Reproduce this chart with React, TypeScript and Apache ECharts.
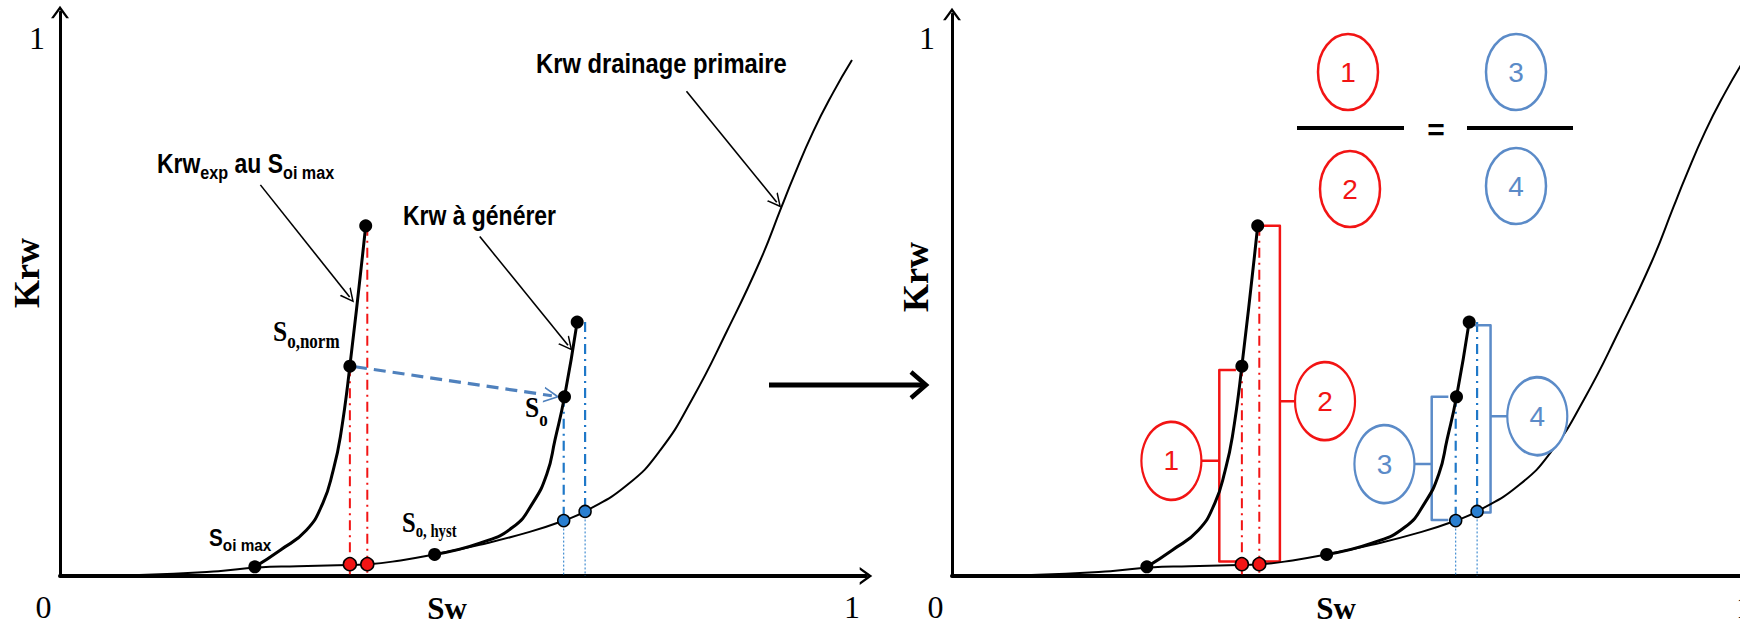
import React, { useEffect, useRef } from "react";
import * as echarts from "echarts";

// ---------- data (Sw, Krw in [0,1]) ----------
const DRAINAGE_SW = [0, 0.1, 0.2, 0.25, 0.3, 0.35, 0.39, 0.43, 0.473, 0.53, 0.593, 0.636, 0.663, 0.716, 0.758, 0.799, 0.842, 0.884, 0.911, 0.926, 0.951, 0.976, 1.0];
const DRAINAGE_KRW = [0, 0.002, 0.009, 0.016, 0.018, 0.02, 0.022, 0.029, 0.04, 0.058, 0.082, 0.103, 0.12, 0.169, 0.234, 0.331, 0.455, 0.586, 0.686, 0.741, 0.826, 0.898, 0.959];

const EXP_SW = [0.246, 0.278, 0.311, 0.332, 0.345, 0.354, 0.366, 0.386];
const EXP_KRW = [0.017, 0.048, 0.085, 0.136, 0.197, 0.259, 0.39, 0.651];

const GEN_SW = [0.473, 0.53, 0.572, 0.597, 0.615, 0.625, 0.637, 0.653];
const GEN_KRW = [0.04, 0.061, 0.091, 0.136, 0.191, 0.253, 0.333, 0.472];

const BLACK_POINTS_SW = [0.246, 0.366, 0.386, 0.473, 0.637, 0.653];
const BLACK_POINTS_KRW = [0.017, 0.39, 0.651, 0.04, 0.333, 0.472];
const RED_POINTS_SW = [0.366, 0.388];
const RED_POINTS_KRW = [0.022, 0.022];
const BLUE_POINTS_SW = [0.636, 0.663];
const BLUE_POINTS_KRW = [0.103, 0.12];
const RED_GUIDE_TOP = [0.39, 0.651];
const BLUE_GUIDE_TOP = [0.333, 0.472];

const BRACKET_SW = [0.3375, 0.414, 0.6057, 0.68];
const BRACKET_LOW = [0.027, 0.027, 0.104, 0.118];
const BRACKET_HIGH = [0.383, 0.651, 0.333, 0.466];
const BRACKET_DIR = [-1, 1, -1, 1];
const CALLOUT_LABELS = ["1", "2", "3", "4"];
const CALLOUT_SW = [0.277, 0.471, 0.546, 0.739];
const CALLOUT_KRW = [0.214, 0.325, 0.208, 0.297];

const ANNOT_FROM = [[0.253, 0.727], [0.53, 0.631], [0.791, 0.901]];
const ANNOT_TO = [[0.3657, 0.5186], [0.6414, 0.4288], [0.905, 0.6948]];
const SHIFT_FROM = [0.3725, 0.389];
const SHIFT_TO = [0.621, 0.335];

const TICK_LABELS = ["0", "1"];

// ---------- styles ----------
const SANS = '"Liberation Sans", Arial, sans-serif';
const SERIF = '"Liberation Serif", "Times New Roman", serif';
const RED = "#f21414";
const CALL_BLUE = "#5b8bc8";
const GUIDE_BLUE = "#1f78c8";
const DOT_BLUE = "#2a7fd0";
const SHIFT_BLUE = "#4f81bd";
const DASHDOT = [10, 5, 2, 5];
const CHEVRON = "path://M10,0 L20,14 L17,14 L10,4.5 L3,14 L0,14 Z";
const CHEVRON_THIN = "path://M6,0 L12,11 L10.6,11 L6,2.6 L1.4,11 L0,11 Z";

const pts = (xs: number[], ys: number[]) => xs.map((x, i) => [x, ys[i]]);

function makeX(g: number) {
  return {
    type: "value",
    gridIndex: g,
    min: 0,
    max: 806 / 792,
    interval: 1,
    axisLine: { show: true, onZero: false, lineStyle: { color: "#000", width: 4 }, symbol: ["none", CHEVRON], symbolSize: [18, 14] },
    axisTick: { show: false },
    splitLine: { show: false },
    axisLabel: {
      margin: 15,
      color: "#000",
      fontFamily: SERIF,
      fontSize: 32,
      formatter: (v: number) => (v === 0 ? "{z|" + TICK_LABELS[0] + "}" : v === 1 ? TICK_LABELS[1] : ""),
      rich: { z: { padding: [0, 33, 0, 0], color: "#000", fontFamily: SERIF, fontSize: 32 } },
    },
    name: "Sw",
    nameLocation: "middle",
    nameGap: 17,
    nameMoveOverlap: false,
    nameTextStyle: { color: "#000", fontFamily: SERIF, fontWeight: "bold", fontSize: 31, lineHeight: 31, padding: [0, g === 0 ? 32 : 38, 0, 0] },
  };
}

function makeY(g: number, max: number) {
  return {
    type: "value",
    gridIndex: g,
    min: 0,
    max,
    interval: 1,
    axisLine: { show: true, onZero: false, lineStyle: { color: "#000", width: 3 }, symbol: ["none", CHEVRON], symbolSize: [18, 14] },
    axisTick: { show: false },
    splitLine: { show: false },
    axisLabel: {
      margin: g === 0 ? 15 : 17,
      color: "#000",
      fontFamily: SERIF,
      fontSize: 32,
      formatter: (v: number) => (v === 1 ? TICK_LABELS[1] : ""),
    },
    name: "Krw",
    nameLocation: "middle",
    nameRotate: 90,
    nameGap: g === 0 ? 15 : 18,
    nameMoveOverlap: false,
    nameTextStyle: { color: "#000", fontFamily: SERIF, fontWeight: "bold", fontSize: 36, padding: [0, 0, 0, g === 0 ? 42 : 36] },
  };
}

function panel(g: number, left: boolean) {
  const ax = { xAxisIndex: g, yAxisIndex: g };
  const s: any[] = [];
  const seg = (a: number[], b: number[], color: string, width: number, type: any, z = 2) =>
    s.push({ type: "line", ...ax, data: [a, b], showSymbol: false, symbol: "none", silent: true, z, lineStyle: { color, width, type } });

  RED_POINTS_SW.forEach((x, i) => seg([x, RED_GUIDE_TOP[i]], [x, 0], RED, 2, DASHDOT));
  BLUE_POINTS_SW.forEach((x, i) => {
    seg([x, BLUE_GUIDE_TOP[i]], [x, BLUE_POINTS_KRW[i]], GUIDE_BLUE, 2.2, DASHDOT);
    seg([x, BLUE_POINTS_KRW[i]], [x, 0], GUIDE_BLUE, 1, [2, 2]);
  });

  if (!left) {
    BRACKET_SW.forEach((x, i) => {
      const col = i < 2 ? RED : CALL_BLUE;
      const tick = x - BRACKET_DIR[i] * 0.021;
      const mid = CALLOUT_KRW[i];
      s.push({
        type: "line", ...ax, showSymbol: false, symbol: "none", silent: true, z: 2,
        lineStyle: { color: col, width: 2.5, join: "round" },
        data: [[tick, BRACKET_HIGH[i]], [x, BRACKET_HIGH[i]], [x, mid], [CALLOUT_SW[i], mid], [x, mid], [x, BRACKET_LOW[i]], [tick, BRACKET_LOW[i]]],
      });
    });
  }

  s.push({ type: "line", ...ax, data: pts(DRAINAGE_SW, DRAINAGE_KRW), smooth: 0.5, showSymbol: false, symbol: "none", silent: true, z: 3, lineStyle: { color: "#000", width: 2 } });
  s.push({ type: "line", ...ax, data: pts(EXP_SW, EXP_KRW), smooth: 0.5, showSymbol: false, symbol: "none", silent: true, z: 3, lineStyle: { color: "#000", width: 3 } });
  s.push({ type: "line", ...ax, data: pts(GEN_SW, GEN_KRW), smooth: 0.5, showSymbol: false, symbol: "none", silent: true, z: 3, lineStyle: { color: "#000", width: 3 } });

  if (left) {
    s.push({
      type: "line", ...ax, data: [], silent: true, z: 3,
      markLine: {
        silent: true, animation: false, symbol: ["none", CHEVRON_THIN], symbolSize: 14,
        label: { show: false },
        lineStyle: { color: "#000", width: 1.6, type: "solid" },
        data: ANNOT_FROM.map((f, i) => [{ coord: f }, { coord: ANNOT_TO[i] }]),
      },
    });
    s.push({
      type: "line", ...ax, data: [], silent: true, z: 3,
      markLine: {
        silent: true, animation: false, symbol: ["none", CHEVRON_THIN], symbolSize: 16,
        label: { show: false },
        lineStyle: { color: SHIFT_BLUE, width: 3.2, type: [12, 7] },
        data: [[{ coord: SHIFT_FROM }, { coord: SHIFT_TO }]],
      },
    });
  } else {
    s.push({
      type: "scatter", ...ax, silent: true, z: 4, symbol: "circle", symbolSize: [60, 78],
      data: CALLOUT_SW.map((x, i) => ({
        value: [x, CALLOUT_KRW[i]],
        name: CALLOUT_LABELS[i],
        itemStyle: { color: "#fff", opacity: 1, borderColor: i < 2 ? RED : CALL_BLUE, borderWidth: 2.5 },
        label: { color: i < 2 ? RED : CALL_BLUE },
      })),
      itemStyle: { opacity: 1 },
      label: { show: true, position: "inside", formatter: "{b}", fontFamily: SANS, fontSize: 28 },
    });
  }

  s.push({ type: "scatter", ...ax, silent: true, z: 5, symbolSize: 13, data: pts(BLACK_POINTS_SW, BLACK_POINTS_KRW), itemStyle: { color: "#000", opacity: 1 } });
  s.push({ type: "scatter", ...ax, silent: true, z: 5, symbolSize: 13, data: pts(RED_POINTS_SW, RED_POINTS_KRW), itemStyle: { color: RED, opacity: 1, borderColor: "#000", borderWidth: 1.5 } });
  s.push({ type: "scatter", ...ax, silent: true, z: 5, symbolSize: 12, data: pts(BLUE_POINTS_SW, BLUE_POINTS_KRW), itemStyle: { color: DOT_BLUE, opacity: 1, borderColor: "#000", borderWidth: 1.5 } });
  return s;
}

function richText(x: number, y: number, text: string, rich: any, scaleX: number) {
  return { type: "text", x, y, scaleX, silent: true, z: 10, style: { text, rich, align: "left", verticalAlign: "top", textAlign: "left", textVerticalAlign: "top" } };
}

const sansRich = (main: number, sub: number, pad: number, lh: number) => ({
  a: { fontFamily: SANS, fontWeight: "bold", fontSize: main, lineHeight: lh, fill: "#000" },
  s: { fontFamily: SANS, fontWeight: "bold", fontSize: sub, lineHeight: lh, padding: [pad, 0, 0, 0], fill: "#000" },
});
const serifRich = (main: number, sub: number, pad: number, lh: number) => ({
  a: { fontFamily: SERIF, fontWeight: "bold", fontSize: main, lineHeight: lh, fill: "#000" },
  s: { fontFamily: SERIF, fontWeight: "bold", fontSize: sub, lineHeight: lh, padding: [pad, 0, 0, 0], fill: "#000" },
});

function graphics() {
  const g: any[] = [];
  // annotation labels (left panel)
  g.push(richText(157, 149, "{a|Krw}{s|exp}{a| au S}{s|oi max}", sansRich(27, 19, 20, 28), 0.85));
  g.push(richText(403, 201, "{a|Krw à générer}", sansRich(27, 19, 20, 28), 0.85));
  g.push(richText(536, 49, "{a|Krw drainage primaire}", sansRich(27, 19, 20, 28), 0.88));
  g.push(richText(273, 316, "{a|S}{s|o,norm}", serifRich(30, 20, 21, 30), 0.85));
  g.push(richText(525, 392, "{a|S}{s|o}", serifRich(30, 20, 25, 30), 0.85));
  g.push(richText(402, 507, "{a|S}{s|o, hyst}", serifRich(30, 18, 17, 30), 0.82));
  g.push(richText(209, 526, "{a|S}{s|oi max}", sansRich(23, 17, 14, 24), 0.9));

  // big arrow between panels
  g.push({ type: "line", silent: true, shape: { x1: 769, y1: 385, x2: 924, y2: 385 }, style: { stroke: "#000", lineWidth: 5 } });
  g.push({ type: "polyline", silent: true, shape: { points: [[911, 372], [926, 385], [911, 398]] }, style: { stroke: "#000", lineWidth: 4.5, fill: "none" } });

  // fraction (1)/(2) = (3)/(4)
  const circ = (cx: number, cy: number, col: string, label: string) => {
    g.push({ type: "ellipse", silent: true, shape: { cx, cy, rx: 30, ry: 38 }, style: { stroke: col, lineWidth: 2.5, fill: "none" } });
    g.push({ type: "text", silent: true, x: cx, y: cy, style: { text: label, fill: col, fontFamily: SANS, fontSize: 28, align: "center", verticalAlign: "middle", textAlign: "center", textVerticalAlign: "middle" } });
  };
  circ(1348, 72, RED, CALLOUT_LABELS[0]);
  circ(1350, 189, RED, CALLOUT_LABELS[1]);
  circ(1516, 72, CALL_BLUE, CALLOUT_LABELS[2]);
  circ(1516, 186, CALL_BLUE, CALLOUT_LABELS[3]);
  g.push({ type: "line", silent: true, shape: { x1: 1297, y1: 128, x2: 1404, y2: 128 }, style: { stroke: "#000", lineWidth: 4 } });
  g.push({ type: "line", silent: true, shape: { x1: 1467, y1: 128, x2: 1573, y2: 128 }, style: { stroke: "#000", lineWidth: 4 } });
  g.push({ type: "text", silent: true, x: 1436, y: 129, style: { text: "=", fill: "#000", fontFamily: SANS, fontWeight: "bold", fontSize: 30, align: "center", verticalAlign: "middle", textAlign: "center", textVerticalAlign: "middle" } });
  return g;
}

export default function App() {
  const ref = useRef<HTMLDivElement>(null);
  useEffect(() => {
    document.body.style.margin = "0";
    if (!ref.current) return;
    const chart = echarts.init(ref.current, undefined, { renderer: "svg" });
    chart.setOption({
      animation: false,
      backgroundColor: "#fff",
      grid: [
        { left: 60, top: 12, width: 806, bottom: 49, containLabel: false, outerBoundsMode: "none" },
        { left: 952, top: 14, width: 806, bottom: 49, containLabel: false, outerBoundsMode: "none" },
      ],
      xAxis: [makeX(0), makeX(1)],
      yAxis: [makeY(0, 564 / 538), makeY(1, 562 / 538)],
      series: [...panel(0, true), ...panel(1, false)],
      graphic: graphics(),
    });
    return () => chart.dispose();
  }, []);
  return <div ref={ref} style={{ width: 1740, height: 625 }} />;
}
